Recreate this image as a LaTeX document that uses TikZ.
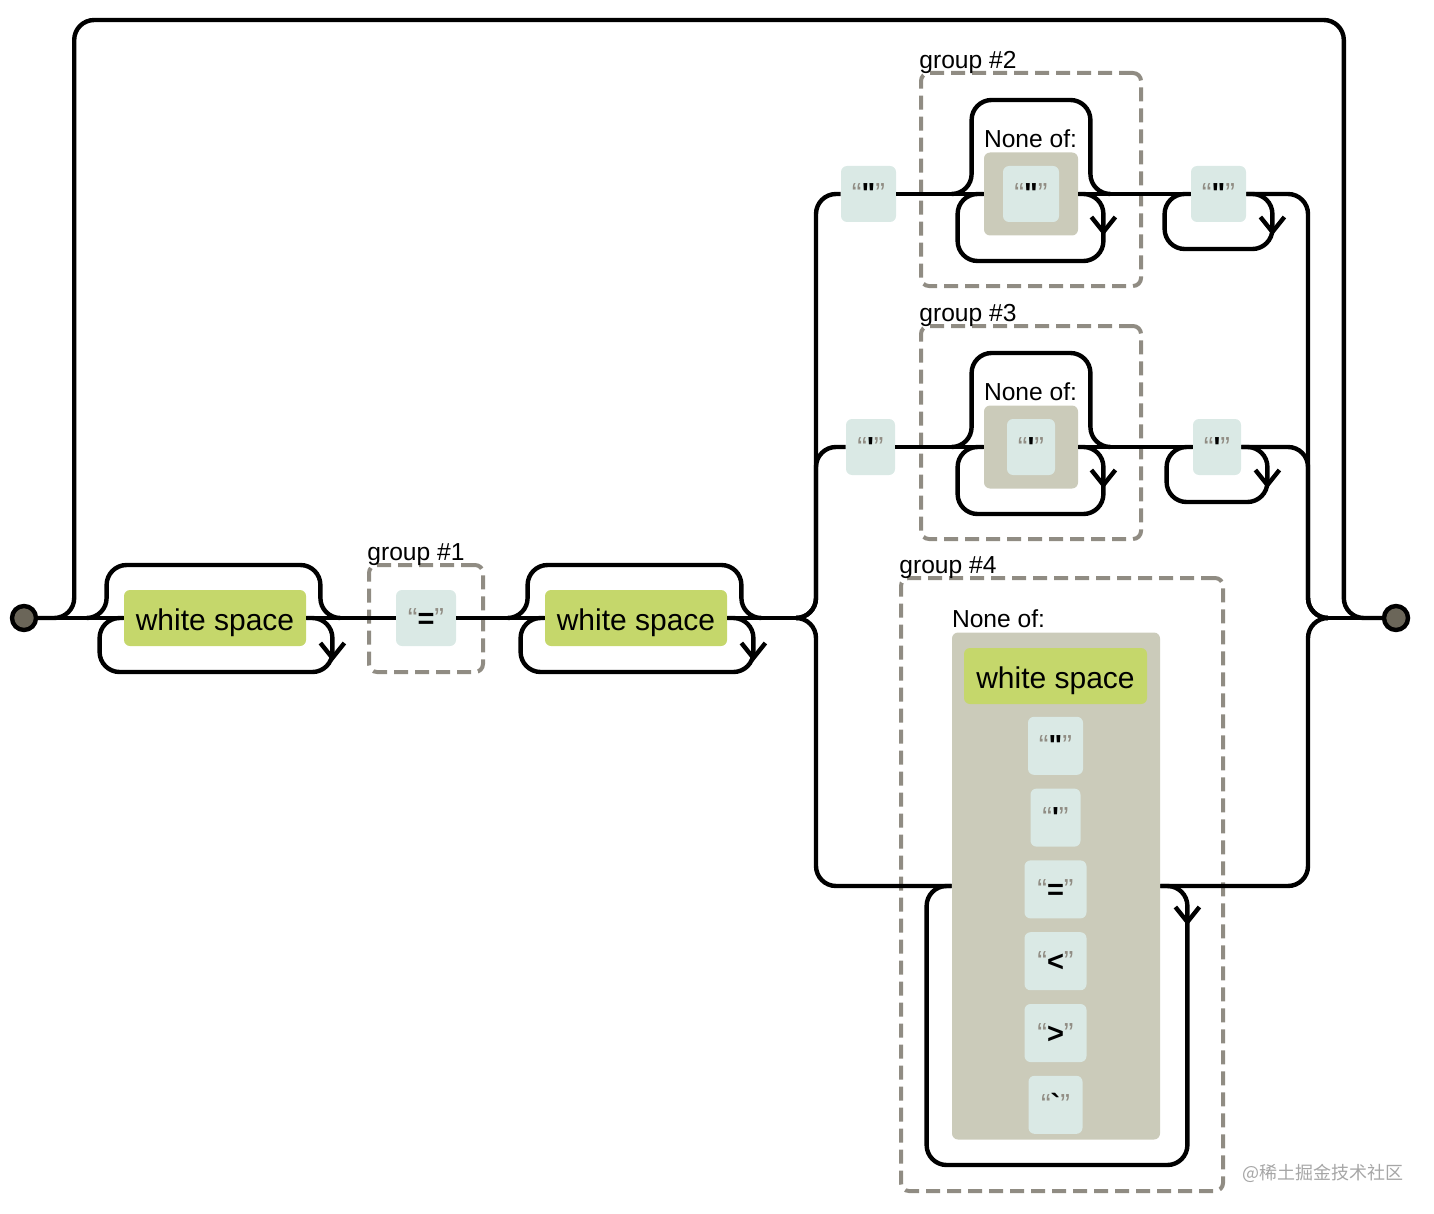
\documentclass[tikz,border=0pt]{standalone}
\usepackage{fontspec}
\setmainfont{Liberation Sans}
\newfontfamily\litfont{Liberation Sans}
\newfontfamily\cjk{Noto Sans CJK SC}
\usetikzlibrary{calc,positioning}

\definecolor{wsgreen}{HTML}{C5D76B}
\definecolor{litfill}{HTML}{DAE9E5}
\definecolor{setfill}{HTML}{CBCBBA}
\definecolor{groupline}{HTML}{908C83}
\definecolor{endfill}{HTML}{6B6659}

\tikzset{
  rail/.style={line width=2.2pt, rounded corners=10pt},
  term/.style={circle, draw, line width=2.2pt, fill=endfill, minimum size=12pt, inner sep=0pt},
  wsbox/.style={fill=wsgreen, rounded corners=3pt, minimum width=91pt, minimum height=28pt, inner sep=0pt, text height=12pt, text depth=0pt, font=\fontsize{15}{18}\selectfont},
  litbox/.style={fill=litfill, rounded corners=3pt, minimum height=28pt, inner sep=0pt, text height=10pt, text depth=0pt, font=\litfont\fontsize{14.5}{16}\selectfont},
  setbox/.style={fill=setfill, rounded corners=3pt, inner sep=0pt},
  group/.style={draw=groupline, dash pattern=on 7pt off 3.5pt, line width=2pt, rounded corners=4pt, inner sep=0pt},
  caption/.style={inner sep=0pt, font=\fontsize{12.3}{14}\selectfont},
  downtip/.pic={\draw[line width=2.2pt] (-12,-15) -- (0,0) -- (12,-15);},
}
\newcommand{\litq}[1]{{\color{groupline}“}\textbf{#1}{\color{groupline}”}}

\begin{document}
\begin{tikzpicture}[x=0.5pt, y=-0.5pt]
\useasboundingbox (0,0) rectangle (1434,1214);

% groups
\node[group, minimum width=57pt, minimum height=53.5pt] (grp1) at (426,618.5) {};
\node[group, minimum width=110pt, minimum height=106.5pt] (grp2) at (1031,179.5) {};
\node[group, minimum width=110pt, minimum height=106.5pt] (grp3) at (1031,432.5) {};
\node[group, minimum width=161pt, minimum height=306.5pt] (grp4) at (1062,884.5) {};
\node[caption, above right=-1.5pt and 0pt of grp1.north west] {group \#1};
\node[caption, above right=-1.5pt and 0pt of grp2.north west] {group \#2};
\node[caption, above right=-1.5pt and 0pt of grp3.north west] {group \#3};
\node[caption, above right=-1.5pt and 0pt of grp4.north west] {group \#4};

% ends
\node[term] (start) at (24,618) {};
\node[term] (end) at (1396,618) {};

% main sequence
\node[wsbox] (ws1) at (215,618) {white space};
\node[litbox, minimum width=30pt] (eq1) at (426,618) {\litq{=}};
\node[wsbox] (ws2) at (636,618) {white space};

% group 2
\node[litbox, minimum width=27.5pt] (dq2a) at (868.5,194) {\litq{\symbol{34}}};
\node[setbox, minimum width=47pt, minimum height=41.5pt] (set2) at (1031,194) {};
\node[litbox, minimum width=28pt] (dq2) at (set2) {\litq{\symbol{34}}};
\node[caption, above right=2pt and 0pt of set2.north west] {None of:};
\node[litbox, minimum width=27.5pt] (dq2b) at (1218.5,194) {\litq{\symbol{34}}};

% group 3
\node[litbox, minimum width=24.5pt] (sq3a) at (870.5,447) {\litq{\symbol{39}}};
\node[setbox, minimum width=47pt, minimum height=41.5pt] (set3) at (1031,447) {};
\node[litbox, minimum width=24pt] (sq3) at (set3) {\litq{\symbol{39}}};
\node[caption, above right=2pt and 0pt of set3.north west] {None of:};
\node[litbox, minimum width=24pt] (sq3b) at (1217,447) {\litq{\symbol{39}}};

% group 4
\node[setbox, minimum width=104pt, minimum height=253.5pt] (set4) at (1056,886) {};
\node[caption, above right=2pt and 0pt of set4.north west] {None of:};
\node[wsbox, minimum width=91.5pt] (ws3) at (1055.5,676) {white space};
\node[litbox, minimum width=27.5pt, minimum height=29pt, below=6pt of ws3] (dq4) {\litq{\symbol{34}}};
\node[litbox, minimum width=25pt, minimum height=29pt, below=6.5pt of dq4] (sq4) {\litq{\symbol{39}}};
\node[litbox, minimum width=31pt, minimum height=29pt, below=6.5pt of sq4] (eq4) {\litq{=}};
\node[litbox, minimum width=31pt, minimum height=29pt, below=6.5pt of eq4] (lt4) {\litq{<}};
\node[litbox, minimum width=31pt, minimum height=29pt, below=6.5pt of lt4] (gt4) {\litq{>}};
\node[litbox, minimum width=27pt, minimum height=29pt, below=6.5pt of gt4] (bt4) {\litq{\symbol{96}}};

\node[font=\cjk\fontsize{9}{11}\selectfont, text=black!35, anchor=east, inner sep=0pt] (mark) at (1404,1173) {@稀土掘金技术社区};

% main line
\coordinate (split) at (796,618);
\coordinate (merge) at (1328,618);
\draw[rail] (start) -- (ws1);
\draw[rail] (ws1) -- (eq1);
\draw[rail] (eq1) -- (ws2);
\draw[rail] (ws2) -- (split);
\draw[rail] (merge) -- (end);

% skip over everything
\draw[rail] (start.east) -- ++(36,0) -- ++(0,-598) -| ($(end.west)+(-38,0)$) -- (end.west);

% white space loops
\draw[rail] ($(ws1.west)+(-37,0)$) -- ++(20,0) -- ++(0,-53) -| ($(ws1.east)+(14,0)$) -- ++(20,0);
\draw[rail] (ws1.east) -- ++(26,0) -- ++(0,54) -| ($(ws1.west)+(-24,0)$) -- (ws1.west);
\pic at ($(ws1.east)+(26,40)$) {downtip};
\draw[rail] ($(ws2.west)+(-37,0)$) -- ++(20,0) -- ++(0,-53) -| ($(ws2.east)+(14,0)$) -- ++(20,0);
\draw[rail] (ws2.east) -- ++(26,0) -- ++(0,54) -| ($(ws2.west)+(-24,0)$) -- (ws2.west);
\pic at ($(ws2.east)+(26,40)$) {downtip};

% branches
\draw[rail] (split) -- ++(20,0) |- (dq2a.west);
\draw[rail] (split) -- ++(20,0) |- (sq3a.west);
\draw[rail] (split) -- ++(20,0) |- (set4.west);
\draw[rail] (dq2b.east) -| ($(merge)+(-20,0)$) -- (merge);
\draw[rail] (sq3b.east) -| ($(merge)+(-20,0)$) -- (merge);
\draw[rail] (set4.east) -| ($(merge)+(-20,0)$) -- (merge);

% group 2 rails
\draw[rail] (dq2a) -- (set2);
\draw[rail] (set2) -- (dq2b);
\draw[rail] ($(set2.west)+(-32,0)$) -- ++(20,0) -- ++(0,-94) -| ($(set2.east)+(12,0)$) -- ++(20,0);
\draw[rail] (set2.east) -- ++(25,0) -- ++(0,67) -| ($(set2.west)+(-26,0)$) -- (set2.west);
\pic at ($(set2.east)+(25,38)$) {downtip};
\draw[rail] (dq2b.east) -- ++(26,0) -- ++(0,55) -| ($(dq2b.west)+(-26,0)$) -- (dq2b.west);
\pic at ($(dq2b.east)+(26,38)$) {downtip};

% group 3 rails
\draw[rail] (sq3a) -- (set3);
\draw[rail] (set3) -- (sq3b);
\draw[rail] ($(set3.west)+(-32,0)$) -- ++(20,0) -- ++(0,-94) -| ($(set3.east)+(12,0)$) -- ++(20,0);
\draw[rail] (set3.east) -- ++(25,0) -- ++(0,67) -| ($(set3.west)+(-26,0)$) -- (set3.west);
\pic at ($(set3.east)+(25,38)$) {downtip};
\draw[rail] (sq3b.east) -- ++(26,0) -- ++(0,55) -| ($(sq3b.west)+(-26,0)$) -- (sq3b.west);
\pic at ($(sq3b.east)+(26,38)$) {downtip};

% group 4 rails
\draw[rail] (set4.east) -- ++(27,0) -- ++(0,279) -| ($(set4.west)+(-25,0)$) -- (set4.west);
\pic at ($(set4.east)+(27,36)$) {downtip};
\end{tikzpicture}
\end{document}
